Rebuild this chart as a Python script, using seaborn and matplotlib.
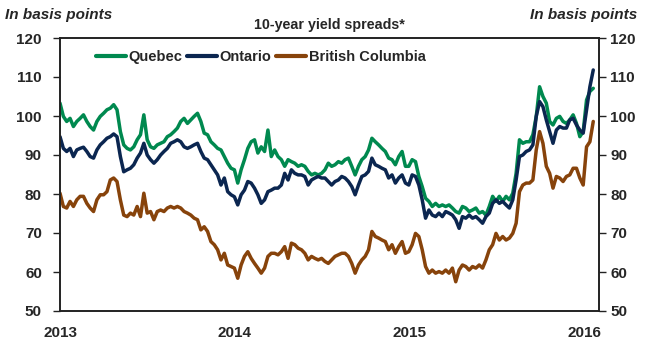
import numpy as np
import pandas as pd
import matplotlib
matplotlib.use("Agg")
import matplotlib.pyplot as plt
import seaborn as sns

# Series labels, colours and axis labels
provinces = ["Quebec", "Ontario", "British Columbia"]
line_colors = ["#00894F", "#0B2650", "#87430B"]
year_labels = ["2013", "2014", "2015", "2016"]
y_ticks = [50, 60, 70, 80, 90, 100, 110, 120]

# Weekly 10-year yield spreads over Canada, in basis points, from Jan 2013
quebec = [
    103.3, 99.9, 98.6, 99.4, 97.3, 98.6, 99.4, 100.3, 98.6, 97.3, 96.4, 98.6, 99.9, 100.7, 101.6, 102.0,
    102.9, 101.6, 96.0, 92.6, 91.7, 91.3, 92.1, 93.9, 95.2, 100.3, 93.9, 92.1, 91.7, 92.6, 93.0, 93.4,
    94.7, 95.2, 96.0, 96.9, 98.6, 99.4, 98.1, 99.0, 99.9, 100.7, 98.6, 95.6, 95.2, 93.4, 92.6, 91.7,
    91.3, 89.6, 87.9, 86.6, 86.2, 82.8, 86.2, 88.8, 91.7, 93.4, 93.9, 90.5, 92.1, 90.9, 96.4, 89.6,
    91.3, 89.6, 88.8, 87.1, 88.8, 88.3, 87.9, 87.1, 87.5, 87.1, 85.8, 84.9, 85.3, 84.9, 85.3, 86.2,
    87.9, 87.1, 87.5, 88.3, 87.9, 88.8, 89.2, 87.1, 84.9, 87.1, 88.8, 89.6, 91.3, 94.3, 93.4, 92.6, 91.7,
    90.9, 89.2, 88.8, 87.5, 89.6, 90.9, 87.1, 87.1, 88.8, 88.3, 84.5, 81.9, 78.9, 78.1, 76.8, 77.6,
    76.8, 77.2, 76.8, 77.2, 76.4, 75.5, 75.1, 76.8, 76.4, 75.5, 75.9, 76.4, 75.1, 75.5, 74.6, 76.8,
    79.4, 78.1, 79.4, 78.1, 79.4, 78.5, 80.2, 85.3, 93.9, 93.0, 93.4, 93.4, 95.2, 99.9, 107.5, 105.0,
    103.3, 98.6, 97.7, 99.4, 99.9, 98.6, 98.1, 99.0, 100.3, 98.1, 94.7, 96.0, 104.1, 106.3, 107.1,
]
ontario = [
    94.7, 91.7, 90.9, 91.7, 89.6, 91.3, 91.7, 92.0, 90.9, 89.6, 89.2, 91.3, 92.6, 93.4, 94.3, 94.7,
    95.4, 94.7, 89.6, 85.7, 86.2, 86.6, 87.5, 89.2, 90.5, 93.0, 90.0, 88.8, 87.9, 88.8, 90.0, 90.9,
    91.7, 93.0, 93.4, 93.9, 93.4, 92.1, 91.7, 92.1, 92.6, 93.0, 90.9, 89.2, 88.8, 87.5, 86.2, 84.9,
    82.3, 84.1, 80.6, 79.8, 79.3, 77.2, 79.8, 81.0, 83.2, 82.8, 81.5, 79.8, 77.6, 78.5, 80.6, 81.0,
    81.5, 81.5, 82.3, 85.3, 83.6, 86.2, 85.3, 84.9, 84.9, 84.5, 82.3, 83.6, 84.1, 84.5, 84.1, 84.1,
    83.2, 82.3, 83.2, 83.6, 84.5, 84.1, 83.2, 81.9, 79.8, 82.3, 84.5, 84.9, 85.8, 89.2, 87.5, 87.1, 86.6,
    86.2, 84.1, 84.9, 82.8, 84.1, 84.9, 82.8, 82.3, 84.9, 84.5, 82.3, 78.5, 73.8, 75.9, 74.6, 74.2,
    75.1, 74.2, 75.5, 75.1, 74.6, 73.4, 71.2, 74.2, 73.8, 74.6, 73.8, 74.2, 73.4, 72.5, 74.2, 75.1,
    77.6, 78.5, 77.6, 78.1, 77.2, 76.4, 78.5, 83.6, 89.6, 90.0, 90.9, 91.3, 92.6, 99.9, 103.7, 102.4,
    99.0, 96.0, 93.0, 96.4, 97.3, 96.9, 96.9, 99.0, 99.4, 97.7, 96.4, 95.6, 101.6, 107.5, 111.8,
]
british_columbia = [
    80.2, 76.8, 76.4, 78.1, 76.8, 78.5, 79.4, 79.4, 77.6, 76.4, 75.5, 78.5, 79.8, 79.8, 80.6, 83.6,
    84.1, 83.2, 78.5, 74.6, 74.2, 75.1, 74.6, 76.8, 74.2, 80.2, 75.1, 75.5, 73.4, 75.5, 75.9, 75.5,
    76.4, 76.8, 76.4, 76.8, 76.4, 75.5, 75.1, 74.6, 73.8, 73.4, 70.8, 71.6, 70.4, 67.8, 67.0, 65.7,
    63.1, 64.8, 61.8, 61.4, 61.0, 58.4, 61.8, 64.0, 65.2, 63.5, 62.2, 61.0, 59.7, 61.0, 64.0, 64.8,
    64.8, 64.4, 65.2, 66.5, 63.5, 67.4, 67.0, 66.1, 65.7, 64.8, 63.1, 64.0, 63.5, 63.1, 63.5, 62.7,
    62.2, 63.1, 64.0, 64.4, 64.8, 64.8, 64.0, 62.2, 59.7, 61.8, 63.1, 64.0, 65.7, 70.4, 69.1, 68.7, 68.2,
    67.8, 65.7, 67.0, 64.8, 66.5, 67.8, 64.8, 65.2, 67.0, 69.9, 69.1, 65.7, 61.4, 59.7, 60.5, 59.7,
    60.1, 59.7, 60.5, 59.7, 61.0, 57.5, 60.5, 61.8, 61.4, 60.5, 61.4, 61.0, 61.8, 61.0, 63.1, 65.7,
    67.0, 69.9, 68.2, 69.1, 68.2, 68.7, 69.9, 72.5, 80.6, 82.3, 82.8, 82.8, 83.6, 91.3, 96.0, 93.0,
    87.1, 85.3, 81.5, 84.5, 84.1, 83.2, 84.5, 84.9, 86.6, 86.6, 84.1, 82.3, 92.1, 93.4, 98.6,
]

dates = pd.date_range("2013-01-01", periods=len(quebec), freq="7D")
df = pd.DataFrame({
    "date": np.tile(dates, len(provinces)),
    "spread": quebec + ontario + british_columbia,
    "province": np.repeat(provinces, len(dates)),
})

sns.set_style("ticks")
plt.rcParams["font.family"] = ["Liberation Sans", "DejaVu Sans"]
plt.rcParams["font.weight"] = "bold"
plt.rcParams["font.size"] = 11

W, H = 649, 343
fig = plt.figure(figsize=(W / 100, H / 100), dpi=100)
ax = fig.add_axes([60 / W, 1 - 311 / H, 539 / W, 273 / H])

sns.lineplot(
    data=df, x="date", y="spread", hue="province",
    palette=dict(zip(provinces, line_colors)),
    linewidth=2.5, ax=ax,
)

sns.move_legend(
    ax, "center left", bbox_to_anchor=(0.066, 0.93), ncol=3, frameon=False,
    title=None, handlelength=2.1, handletextpad=0.15, columnspacing=0.3,
    borderaxespad=0, borderpad=0, prop={"weight": "bold", "size": 10.5},
)
for line in ax.get_legend().get_lines():
    line.set_linewidth(3)

ax.set_ylim(50, 120)
ax.set_yticks(y_ticks)
ax.set_xlim(pd.Timestamp("2013-01-01"), pd.Timestamp("2016-01-31"))
ax.set_xticks([pd.Timestamp(f"{y}-01-01") for y in year_labels])
ax.set_xticklabels(year_labels)
ax.set_xlabel("")
ax.set_ylabel("")

ax.tick_params(axis="y", direction="out", length=5, width=1, color="#222222",
               left=True, right=False, labelleft=True, labelright=False, pad=8,
               labelsize=11)
ax.tick_params(axis="x", length=0, pad=11, labelsize=11)

# Mirror the scale on the right-hand side
ax_r = ax.twinx()
ax_r.set_ylim(ax.get_ylim())
ax_r.set_yticks(y_ticks)
ax_r.tick_params(axis="y", direction="out", length=5, width=1, color="#222222",
                 left=False, right=True, labelleft=False, labelright=True, pad=3,
                 labelsize=11)
ax_r.set_ylabel("")

for a in (ax, ax_r):
    for spine in a.spines.values():
        spine.set_visible(True)
        spine.set_linewidth(1.2)
        spine.set_color("#222222")

fig.text(329.5 / W, 1 - 25 / H, "10-year yield spreads*", ha="center", va="center",
         fontsize=10.3, fontweight="bold")
fig.text(5 / W, 1 - 15 / H, "In basis points", ha="left", va="center",
         fontsize=11, fontweight="bold", style="italic")
fig.text(637 / W, 1 - 15 / H, "In basis points", ha="right", va="center",
         fontsize=11, fontweight="bold", style="italic")

fig.savefig("out.png", dpi=100)
